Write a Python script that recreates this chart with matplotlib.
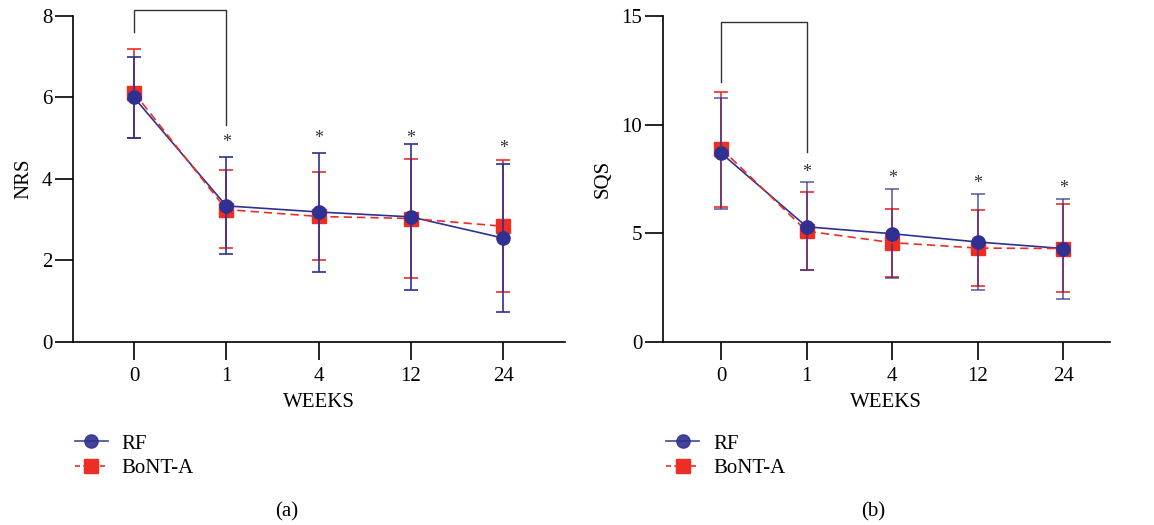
import matplotlib
matplotlib.use("Agg")
import matplotlib.pyplot as plt
import numpy as np

plt.rcParams['font.family'] = ['Liberation Serif', 'DejaVu Serif']

weeks = ["0", "1", "4", "12", "24"]

# panel (a): NRS
nrs_rf = [6.0, 3.34, 3.19, 3.07, 2.55]
nrs_rf_hi = [7.0, 4.54, 4.64, 4.86, 4.37]
nrs_rf_lo = [5.0, 2.16, 1.72, 1.27, 0.73]
nrs_bo = [6.12, 3.25, 3.08, 3.03, 2.84]
nrs_bo_hi = [7.2, 4.22, 4.17, 4.49, 4.46]
nrs_bo_lo = [5.0, 2.31, 2.0, 1.57, 1.23]
nrs_star = [4.9, 5.0, 4.99, 4.75]

# panel (b): SQS
sqs_rf = [8.69, 5.3, 4.98, 4.6, 4.3]
sqs_rf_hi = [11.23, 7.34, 7.05, 6.82, 6.59]
sqs_rf_lo = [6.14, 3.31, 2.94, 2.39, 2.0]
sqs_bo = [8.9, 5.1, 4.57, 4.32, 4.3]
sqs_bo_hi = [11.51, 6.91, 6.13, 6.08, 6.36]
sqs_bo_lo = [6.2, 3.31, 3.0, 2.56, 2.28]
sqs_star = [7.8, 7.54, 7.31, 7.06]

blue = "#2E3192"
red = "#EE2E24"
fs = 15


def panel(ax, rf, rf_lo, rf_hi, bo, bo_lo, bo_hi, stars, ylim, yticks, ylabel,
          xlim, bracket, rf_alpha):
    x = np.arange(len(weeks))
    rf = np.array(rf); bo = np.array(bo)
    ax.errorbar(x, bo, yerr=[bo - np.array(bo_lo), np.array(bo_hi) - bo],
                fmt="none", ecolor=red, elinewidth=1.2, capsize=5, capthick=1.2, zorder=2)
    ax.plot(x, bo, color=red, ls="none", marker="s", ms=10, zorder=3)
    ax.errorbar(x, rf, yerr=[rf - np.array(rf_lo), np.array(rf_hi) - rf],
                fmt="none", ecolor=blue, elinewidth=1.2, capsize=5, capthick=1.2,
                alpha=rf_alpha, zorder=4)
    ax.plot(x, rf, color=blue, lw=1.2, zorder=5)
    ax.plot(x, bo, color=red, lw=1.2, ls=(0, (5, 3)), zorder=6)
    ax.plot(x, rf, color=blue, ls="none", marker="o", ms=9.5, zorder=7)
    for xi, s in zip(x[1:], stars):
        ax.text(xi, s, "*", ha="center", va="center", fontsize=13, color="#333333")
    top, lleg, rleg = bracket
    ax.plot([0, 0, 1, 1], [lleg, top, top, rleg], color="#333333", lw=1,
            clip_on=False, zorder=8)

    ax.set_xlim(xlim)
    ax.set_ylim(ylim)
    ax.set_yticks(yticks)
    ax.set_xticks(x)
    ax.set_xticklabels(weeks)
    ax.set_ylabel(ylabel, fontsize=fs, labelpad=6)
    ax.set_xlabel("WEEKS", fontsize=fs, labelpad=5)
    ax.spines["top"].set_visible(False)
    ax.spines["right"].set_visible(False)
    ax.tick_params(direction="out", length=13, width=1.2, labelsize=fs, pad=2)
    ax.tick_params(axis="x", pad=5)
    ax.spines["left"].set_linewidth(1.2)
    ax.spines["bottom"].set_linewidth(1.2)
    ax.legend(handles=[
        plt.Line2D([], [], color=blue, marker="o", ms=9.5, lw=1.2, alpha=0.9),
        plt.Line2D([], [], color=red, marker="s", ms=10, lw=1.2, ls=(0, (3, 2)))],
        labels=["RF", "BoNT-A"], loc="upper left", bbox_to_anchor=(-0.035, -0.225),
        frameon=False, fontsize=fs, handlelength=1.6, handletextpad=0.65,
        labelspacing=0.25)


fig = plt.figure(figsize=(11.54, 5.25), dpi=100)
ax1 = fig.add_axes([0.0633, 0.3486, 0.4263, 0.621])
ax2 = fig.add_axes([0.5745, 0.3486, 0.387, 0.621])

panel(ax1, nrs_rf, nrs_rf_lo, nrs_rf_hi, nrs_bo, nrs_bo_lo, nrs_bo_hi, nrs_star,
      (0, 8), [0, 2, 4, 6, 8], "NRS", (-0.66, 4.67), (8.15, 7.6, 5.32), 1.0)
panel(ax2, sqs_rf, sqs_rf_lo, sqs_rf_hi, sqs_bo, sqs_bo_lo, sqs_bo_hi, sqs_star,
      (0, 15), [0, 5, 10, 15], "SQS", (-0.68, 4.54), (14.7, 11.98, 8.73), 0.75)

fig.text(287 / 1154, 1 - 512 / 525, "(a)", ha="center", va="center", fontsize=fs)
fig.text(873 / 1154, 1 - 512 / 525, "(b)", ha="center", va="center", fontsize=fs)

fig.savefig("out.png", dpi=100)
